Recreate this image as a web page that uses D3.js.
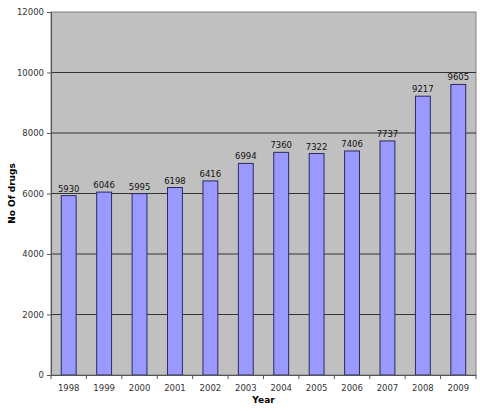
<!DOCTYPE html>
<html>
<head>
<meta charset="utf-8">
<script src="https://cdn.jsdelivr.net/npm/d3@7"></script>
<style>
  body { margin: 0; background: #fff; }
  svg { display: block; font-family: "DejaVu Sans", sans-serif; }
</style>
</head>
<body>
<div id="chart"></div>
<script>
const years = ["1998", "1999", "2000", "2001", "2002", "2003", "2004", "2005", "2006", "2007", "2008", "2009"];
const drugs = [5930, 6046, 5995, 6198, 6416, 6994, 7360, 7322, 7406, 7737, 9217, 9605];
const yTicks = [0, 2000, 4000, 6000, 8000, 10000, 12000];

const width = 480;
const height = 411;
const margin = { top: 12, right: 4, bottom: 36, left: 51 };

const svg = d3.select("#chart").append("svg")
  .attr("width", width)
  .attr("height", height);

const x = d3.scaleBand()
  .domain(years)
  .range([margin.left, width - margin.right])
  .paddingInner(0.58)
  .paddingOuter(0.29);

const y = d3.scaleLinear()
  .domain([0, 12000])
  .range([height - margin.bottom, margin.top]);

// plot background
svg.append("rect")
  .attr("x", margin.left)
  .attr("y", margin.top)
  .attr("width", width - margin.right - margin.left)
  .attr("height", y(0) - margin.top)
  .attr("fill", "#c0c0c0")
  .attr("stroke", "#808080")
  .attr("stroke-width", 1);

// gridlines
svg.append("g")
  .selectAll("line")
  .data(yTicks.filter((d) => d > 0 && d < 12000))
  .join("line")
  .attr("x1", margin.left)
  .attr("x2", width - margin.right)
  .attr("y1", (d) => y(d))
  .attr("y2", (d) => y(d))
  .attr("stroke", "#333")
  .attr("stroke-width", 1);

// bars
svg.append("g")
  .selectAll("rect")
  .data(drugs)
  .join("rect")
  .attr("x", (d, i) => x(years[i]))
  .attr("y", (d) => y(d))
  .attr("width", x.bandwidth())
  .attr("height", (d) => y(0) - y(d))
  .attr("fill", "#9999ff")
  .attr("stroke", "#2b2b5e")
  .attr("stroke-width", 1);

// value labels
svg.append("g")
  .selectAll("text")
  .data(drugs)
  .join("text")
  .attr("x", (d, i) => x(years[i]) + x.bandwidth() / 2)
  .attr("y", (d) => y(d) - 4)
  .attr("text-anchor", "middle")
  .attr("font-size", 8.5)
  .attr("fill", "#111")
  .text((d) => d);

// y axis
const yAxis = svg.append("g")
  .attr("transform", `translate(${margin.left},0)`)
  .call(d3.axisLeft(y).tickValues(yTicks).tickSize(4).tickPadding(3).tickFormat(d3.format("d")));
yAxis.select(".domain").attr("stroke", "#555");
yAxis.selectAll(".tick line").attr("stroke", "#555");
yAxis.selectAll("text").attr("font-size", 8.5).attr("fill", "#333").attr("font-family", "DejaVu Sans, sans-serif");

// x axis with ticks between categories
const xAxis = svg.append("g")
  .attr("transform", `translate(0,${y(0)})`)
  .call(d3.axisBottom(x).tickSize(0).tickPadding(10));
xAxis.select(".domain").attr("stroke", "#555");
xAxis.selectAll("text").attr("font-size", 8.5).attr("fill", "#333").attr("font-family", "DejaVu Sans, sans-serif");

const step = x.step();
xAxis.append("g")
  .selectAll("line")
  .data(d3.range(years.length + 1))
  .join("line")
  .attr("x1", (i) => margin.left + i * (width - margin.right - margin.left) / years.length)
  .attr("x2", (i) => margin.left + i * (width - margin.right - margin.left) / years.length)
  .attr("y1", 0)
  .attr("y2", 4)
  .attr("stroke", "#555");

// axis titles
svg.append("text")
  .attr("x", (margin.left + width - margin.right) / 2)
  .attr("y", 403)
  .attr("text-anchor", "middle")
  .attr("font-size", 9)
  .attr("font-weight", "bold")
  .text("Year");

svg.append("text")
  .attr("transform", `translate(15,${(margin.top + y(0)) / 2}) rotate(-90)`)
  .attr("text-anchor", "middle")
  .attr("font-size", 9)
  .attr("font-weight", "bold")
  .text("No Of drugs");
</script>
</body>
</html>
